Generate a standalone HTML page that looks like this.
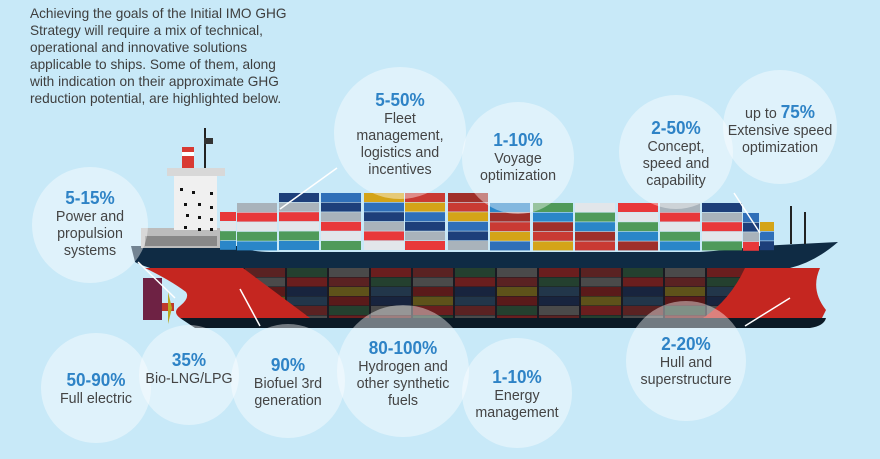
<!DOCTYPE html>
<html><head><meta charset="utf-8"><style>
html,body{margin:0;padding:0;background:#c8e9f8;}
body{width:880px;height:459px;overflow:hidden;position:relative;font-family:"Liberation Sans",sans-serif;}
svg{position:absolute;left:0;top:0}
.intro{position:absolute;left:30px;top:5px;font-size:14px;line-height:17px;color:#3e3e3e;white-space:nowrap;transform:scaleX(0.975);transform-origin:0 0}
.c{position:absolute;text-align:center;color:#444;font-size:15px;line-height:17px;white-space:nowrap;transform:scaleX(0.95);}
.c b{color:#2e83c6;font-size:18px;line-height:20px;display:block}
</style></head><body>
<svg id="s" width="880" height="459" viewBox="0 0 880 459"></svg>
<div class="intro">Achieving the goals of the Initial IMO GHG<br>Strategy will require a mix of technical,<br>operational and innovative solutions<br>applicable to ships. Some of them, along<br>with indication on their approximate GHG<br>reduction potential, are highlighted below.</div>
<div class="c" style="left:340px;top:90px;width:120px"><b>5-50%</b>Fleet<br>management,<br>logistics and<br>incentives</div>
<div class="c" style="left:460px;top:130px;width:116px"><b>1-10%</b>Voyage<br>optimization</div>
<div class="c" style="left:620px;top:118px;width:112px"><b>2-50%</b>Concept,<br>speed and<br>capability</div>
<div class="c" style="left:722px;top:102px;width:116px">up to <b style="display:inline">75%</b><br>Extensive speed<br>optimization</div>
<div class="c" style="left:30px;top:188px;width:120px"><b>5-15%</b>Power and<br>propulsion<br>systems</div>
<div class="c" style="left:40px;top:370px;width:112px"><b>50-90%</b>Full electric</div>
<div class="c" style="left:134px;top:350px;width:110px"><b>35%</b>Bio-LNG/LPG</div>
<div class="c" style="left:230px;top:355px;width:116px"><b>90%</b>Biofuel 3rd<br>generation</div>
<div class="c" style="left:338px;top:338px;width:130px"><b>80-100%</b>Hydrogen and<br>other synthetic<br>fuels</div>
<div class="c" style="left:460px;top:367px;width:114px"><b>1-10%</b>Energy<br>management</div>
<div class="c" style="left:626px;top:334px;width:120px"><b>2-20%</b>Hull and<br>superstructure</div>
<script>
var s=document.getElementById('s'),h='';
var cols=['#e8383a','#2a86c8','#d4a418','#a9b3bb','#4f9a5a','#c93a33','#1d3f7a','#e2e6ea','#9f2f2a','#2f6fb8'];
function R(x,y,w,hh,f,o){h+='<rect x="'+x+'" y="'+y+'" width="'+w+'" height="'+hh+'" fill="'+f+'"'+(o?' opacity="'+o+'"':'')+'/>';}
h+='<path d="M131 246 L240 246 Q250 252 270 252 L700 252 Q730 250 760 246 L838 242 Q815 262 790 268 L150 268 Q138 264 135 262 Z" fill="#0f2b44"/>';
R(240,268,550,50,'#1a1a22');
var pal=['#5a1a1a','#6a1e1e','#22364a','#4a4a4a','#5e521a','#24402f','#18243e','#5a2222'];
for(var x=245;x<780;x+=42){for(var y=268;y<318;y+=9.5){R(x,y,40,9,pal[(x*7+y*3|0)%8]);}}
h+='<path d="M145 268 L243 268 L310 318 L180 318 Q172 312 180 306 Q190 298 186 292 Q170 280 145 268 Z" fill="#c52620"/>';
h+='<path d="M745 268 L820 268 Q810 290 826 310 L822 318 L703 318 Q730 300 745 268 Z" fill="#c52620"/>';
h+='<path d="M180 318 L826 318 Q824 326 810 328 L195 328 Z" fill="#0b1a26"/>';
R(143,278,19,42,'#6e2244');R(162,303,12,8,'#c0392b');h+='<path d="M168 292 L172 308 L168 324 Z" fill="#b8a820"/>';
R(141,228,80,20,'#bcbcbc');R(145,236,72,10,'#888');
R(174,175,43,55,'#f0f0f0');R(167,168,58,8,'#d8d8d8');
R(182,147,12,21,'#d83a33');R(182,152,12,4,'#fff');
R(204,128,2,40,'#222');R(204,138,9,6,'#333');
[[180,188],[192,191],[210,192],[184,203],[198,203],[210,206],[186,214],[198,216],[210,218],[184,226],[198,228],[210,228]].forEach(function(p){R(p[0],p[1],3,3,'#111');});
var st=[[220,16,212],[237,40,203],[279,40,193],[321,40,193],[364,40,193],[405,40,193],[448,40,193],[490,40,203],[533,40,203],[575,40,203],[618,40,203],[660,40,203],[702,40,203],[743,16,213],[760,14,222]];
st.forEach(function(c,i){for(var y=c[2],k=0;y<248;y+=9.6,k++){R(c[0],y,c[1],9,cols[(i*3+k*7)%10]);}});
R(790,206,2,38,'#222');R(804,212,2,32,'#222');
h+='<g stroke="#fff" stroke-width="1.5"><line x1="280" y1="209" x2="337" y2="168"/><line x1="734" y1="193" x2="760" y2="233"/><line x1="138" y1="262" x2="175" y2="298"/><line x1="240" y1="289" x2="260" y2="326"/><line x1="745" y1="326" x2="790" y2="298"/></g>';
[[400,133,66],[518,158,56],[676,152,57],[780,127,57],[90,225,58],[96,388,55],[189,375,50],[288,381,57],[403,371,66],[517,393,55],[686,361,60]].forEach(function(c){h+='<circle cx="'+c[0]+'" cy="'+c[1]+'" r="'+c[2]+'" fill="#ffffff" fill-opacity="0.42"/>';});
s.innerHTML=h;
</script>
</body></html>
